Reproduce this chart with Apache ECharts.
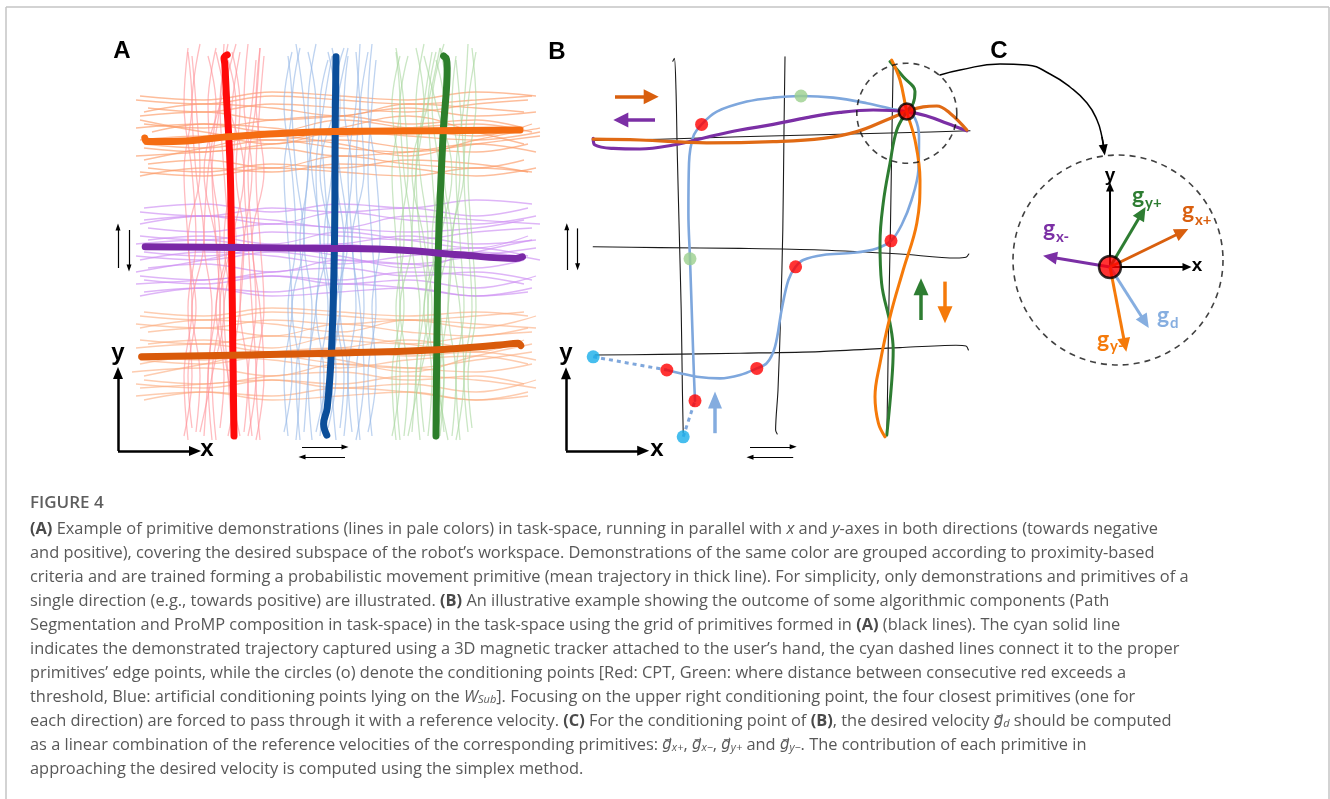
<!DOCTYPE html>
<html><head><meta charset="utf-8">
<script src="https://cdn.jsdelivr.net/npm/echarts/dist/echarts.min.js"></script>
<style>html,body{margin:0;padding:0;background:#fff}#c{width:1330px;height:799px}</style>
</head><body><div id="c"></div><script>
// ---------------- DATA ----------------
// Panel A: interior sample positions along each pale demonstration
const sampleMidA = [16, 33, 50, 67, 84];
// vertical pale demonstrations (x values at each sample)
const paleRed = [
  [12,11,13,12,11,13,12],[14,15,13,16,14,13,15],[16,17,18,16,17,19,17],[18,17,19,20,18,17,19],
  [20,21,19,22,21,20,22],[22,24,23,21,23,24,22],[24,23,25,26,24,25,23],[26,27,25,26,28,26,27],
  [28,27,29,28,27,29,30],[30,29,31,30,29,30,31],[15,18,21,19,16,20,24],[25,22,20,23,26,22,19],
  [11,13,12,14,13,11,12],[13,12,14,12,15,14,13],[19,18,20,19,18,20,21],[23,22,21,24,22,23,25],
  [27,29,28,27,26,28,29],[29,31,30,28,31,29,30]];
const paleRedStart = [0,2,1,0,3,1,0,2,1,0,2,1,1,3,0,2,1,0];
const paleRedEnd   = [97,99,96,98,99,95,97,99,98,96,99,97,98,96,99,97,95,98];
const paleBlue = [
  [37,36,38,37,36,38,37],[39,40,38,41,39,38,40],[41,42,43,41,42,44,42],[43,42,44,45,43,42,44],
  [45,46,44,47,46,45,47],[47,49,48,46,48,49,47],[49,48,50,51,49,50,48],[51,52,50,51,53,51,52],
  [53,52,54,53,52,54,55],[55,54,56,55,54,55,57],[58,57,59,58,57,58,59],[44,47,50,48,45,49,52],
  [36,38,37,39,38,36,38],[40,39,41,40,42,41,39],[46,45,47,45,44,46,48],[50,51,49,52,50,48,51],
  [54,56,55,53,56,55,54],[57,59,58,60,59,57,58]];
const paleBlueStart = [1,0,2,0,1,3,0,1,2,0,1,2,2,0,1,3,0,2];
const paleBlueEnd   = [96,98,97,99,95,97,98,96,99,97,95,98,97,99,96,98,97,99];
const paleGreen = [
  [64,63,65,64,63,65,64],[66,67,65,68,66,65,67],[68,69,70,68,69,71,69],[70,69,71,72,70,69,71],
  [72,73,71,74,73,72,74],[74,76,75,73,75,76,74],[76,75,77,78,76,77,75],[78,79,77,78,80,78,79],
  [80,79,81,80,79,81,82],[82,81,83,82,81,82,84],[67,70,73,71,68,72,75],[77,74,72,75,78,74,71],
  [63,65,64,66,65,63,65],[65,64,66,65,67,66,64],[71,70,72,70,69,71,73],[75,76,74,77,75,73,76],
  [79,81,80,78,81,80,79],[83,82,84,83,82,84,83]];
const paleGreenStart = [0,1,2,0,1,0,2,1,0,2,1,0,1,0,2,1,0,3];
const paleGreenEnd   = [97,96,98,99,97,95,98,96,99,97,98,96,96,98,97,99,95,98];
// horizontal pale demonstrations (y values at each sample)
const paleOrangeTop = [
  [67,66,68,67,66,68,67],[69,70,68,71,69,68,70],[71,72,73,71,72,74,72],[73,72,74,75,73,72,74],
  [75,76,74,77,76,75,77],[77,79,78,76,78,79,77],[79,78,80,81,79,80,78],[81,82,80,81,83,81,82],
  [83,82,84,83,82,84,85],[85,84,86,85,84,85,86],[70,73,76,74,71,75,78],[80,77,75,78,81,77,74],
  [66,68,67,69,68,66,68],[68,67,69,68,70,69,67],[74,73,75,73,72,74,76],[78,79,77,80,78,76,79],
  [82,84,83,81,84,83,82],[86,85,87,86,85,87,86]];
const paleOrangeTopStart = [0,2,-1,1,0,3,1,0,2,-1,1,0,0,2,1,-1,1,0];
const paleOrangeTopEnd   = [98,96,99,97,100,98,96,99,97,98,100,96,99,97,100,98,96,99];
const palePurple = [
  [37,38,36,37,38,36,37],[39,40,41,39,40,38,41],[41,40,42,43,41,42,40],[43,44,42,45,44,43,45],
  [45,47,46,44,46,47,45],[47,46,48,49,47,48,46],[49,50,48,49,51,49,50],[51,50,52,51,50,52,53],
  [53,52,54,53,52,53,55],[55,56,54,57,55,54,56],[57,56,58,57,58,56,58],[42,45,48,46,43,47,50],
  [36,38,37,39,38,36,38],[40,39,41,40,42,41,39],[46,45,47,45,44,46,48],[50,51,49,52,50,48,51],
  [54,56,55,53,56,55,54],[58,59,57,59,58,60,59]];
const palePurpleStart = [1,-1,0,2,0,1,-1,0,2,1,0,-1,0,1,-1,2,0,1];
const palePurpleEnd   = [97,99,98,96,100,97,99,98,96,99,97,98,98,96,99,97,100,98];
const paleOrangeLow = [
  [11,12,10,11,12,10,11],[13,14,15,13,14,12,15],[15,14,16,17,15,16,14],[17,18,16,19,18,17,19],
  [19,21,20,18,20,21,19],[21,20,22,23,21,22,20],[23,24,22,23,25,23,24],[25,24,26,25,24,26,27],
  [27,28,26,29,27,26,28],[29,28,30,29,30,28,31],[31,30,32,31,30,31,32],[16,19,22,20,17,21,24],
  [10,12,11,13,12,10,12],[14,13,15,14,16,15,13],[20,19,21,19,18,20,22],[24,25,23,26,24,22,25],
  [28,30,29,27,30,29,28],[32,31,33,32,31,32,31]];
const paleOrangeLowStart = [-1,0,1,-2,0,1,-1,0,2,-1,0,1,1,-1,0,2,0,1];
const paleOrangeLowEnd   = [97,99,96,98,97,99,96,98,97,99,96,98,97,99,98,96,99,97];
// Panel A mean primitives [x, y]
const meanRed    = [[23.5,1],[23.2,23],[22.9,48],[22.5,69],[21.6,86],[21.2,94],[21.0,95.5],[21.8,96.3]];
const meanBlue   = [[49,95.8],[48.8,77.5],[48.6,48],[47.9,23],[46.8,8],[45.9,4],[46.7,1.2]];
const meanGreen  = [[74,1],[74.2,23],[74.6,48],[75.8,77],[76.8,93],[76.6,95.2],[75.9,96]];
const meanOrangeTop = [[1.2,75.5],[1.8,74.6],[10,74.7],[23,75.9],[48,77.1],[73,77.3],[95,77.5]];
const meanPurple = [[1.3,48.3],[25,48.1],[48,47.9],[65,47.5],[80,46.3],[94,45.4],[95.6,45.8]];
const meanOrangeLow = [[0.4,20.8],[23,21.2],[48,21.7],[73,22.5],[90,23.75],[94.5,24.2],[95.2,23.6]];
const arrowsA_axisY = [[-5.5,-2.75],[-5.5,16.75]];
const arrowsA_axisX = [[-5.5,-2.75],[13.75,-2.75]];
const arrowsA_up    = [[-5.5,43],[-5.5,53.25]];
const arrowsA_down  = [[-2.75,52.5],[-2.75,43]];
const arrowsA_right = [[40.5,-1.75],[51.25,-1.75]];
const arrowsA_left  = [[51.25,-4.25],[40.5,-4.25]];

// Panel B: grid of primitives (black lines)
const gridB_v1 = [[33.2,102.2],[33.6,102.9],[34.0,95],[34.3,80],[34.8,60],[35.3,40],[35.6,20],[35.8,9.3]];
const gridB_v2 = [[61.25,103.3],[61.0,85],[60.7,60],[60.2,40],[59.5,20],[58.9,10],[59.3,9.0]];
const gridB_v3 = [[88.3,102],[88.0,85],[87.6,60],[87.2,40],[86.9,20],[86.7,8.5]];
const gridB_h1 = [[13.3,82.4],[30,82.7],[50,83.3],[70,83.8],[90,84.3],[107.5,84.8]];
const gridB_h2 = [[13.3,55.8],[30,55.6],[50,55.4],[70,55],[90,54],[104,53],[106.5,53.2],[107.2,54]];
const gridB_h3 = [[13.75,28.75],[30,28.9],[50,29.2],[70,29.6],[90,30.6],[104,31.2],[106.5,31],[107.1,30]];
// demonstrated trajectory
const trajectory = [[38.75,17.3],[38.5,23.3],[38.1,35],[37.5,52.8],[37.1,64.2],[37.25,76.7],[38.3,83.3],
  [40.4,86.4],[44.2,89.6],[51.7,92.1],[58.3,93.1],[65.25,93.5],[73.3,93.1],[81.7,91.7],[88.3,90.2],
  [91.7,89.6],[93.75,87.9],[94.75,83.3],[94.6,75],[92.9,67.5],[90.4,61.25],[87.75,57.3],[84.2,55.4],
  [78.3,54.3],[70.8,53.75],[65.8,52.5],[63.9,50.8],[62.1,47.5],[60.4,40],[58.75,30.8],[56.7,26.7],
  [54.2,25.4],[50,23.75],[45,22.9],[39.2,23.3],[35,24.2],[31.7,25]];
const dashedLink1 = [[13.3,28.3],[31.7,25]];
const dashedLink2 = [[35.8,8.3],[38.75,17.3]];
const primPurpleB = [[13.3,82.9],[13.75,81.25],[18.3,80.4],[25,80.25],[33.3,81.25],[41.7,83.2],[50,85],
  [58.3,86.4],[66.7,88.1],[75,89.4],[83.3,90],[91.7,89.6],[96.7,88.5],[101.7,86.7],[106.7,84.8]];
const primOrangeHB = [[13.3,82.7],[25,82.5],[41.7,81.8],[58.3,82.1],[70.8,82.9],[79.2,84.6],[87.5,87.9],
  [91.7,89.6],[95.8,90.8],[99.2,91],[102.5,89.2],[106.7,85]];
const primGreenB = [[87.5,102.1],[90.8,98.3],[93.75,94.6],[93.3,91.7],[91.7,89.6],[89.2,85],[87.5,76.7],
  [85.8,66.7],[85,56.7],[85.4,46.7],[87.5,36.7],[88.3,30],[87.9,21.7],[86.7,8.75]];
const primOrangeVB = [[87.9,102.5],[90,97.5],[91.7,89.6],[93.75,82.5],[95,72.5],[94.2,61.7],[90.8,50],
  [87.5,38.3],[85,26.7],[83.75,18.3],[84.6,11.7],[86.25,8.3]];
const redPoints   = [[38.75,17.3],[31.7,25],[54.2,25.4],[63.9,50.8],[87.75,57.3],[40.4,86.4]];
const greenPoints = [[37.5,52.8],[65.25,93.5]];
const bluePoints  = [[13.3,28.3],[35.8,8.3]];
const focusPoint  = [[91.7,89.6]];
const focusCircle = [[91.7,89.2]];
const arrowB_orangeRight = [[18.75,93.3],[27.8,93.3]];
const arrowB_purpleLeft  = [[28.75,87.5],[20.2,87.5]];
const arrowB_greenUp     = [[95.25,37.5],[95.25,45.8]];
const arrowB_orangeDown  = [[101.25,47.1],[101.25,38.8]];
const arrowB_blueUp      = [[43.75,9.2],[43.75,17.5]];
const arrowsB_axisY = [[6.5,4.8],[6.5,24.2]];
const arrowsB_axisX = [[6.5,4.8],[25.8,4.8]];
const arrowsB_up    = [[6.7,50],[6.7,60.8]];
const arrowsB_down  = [[9.4,60.4],[9.4,50.8]];
const arrowsB_right = [[52.5,5.8],[63.3,5.8]];
const arrowsB_left  = [[63.3,3.2],[52.5,3.2]];

// Panel C: velocities at the conditioning point
const originC = [45,50.75];
const circleC = [[47,52.5]];
const velYplus  = [53,64.25];
const velXplus  = [63,59.5];
const velXminus = [30,53.25];
const velD      = [53.75,37];
const velYminus = [48.75,31.25];
const axisCY = [45,70.75];
const axisCX = [64.25,50.75];
const linkCurve = [[2.5,98.75],[7.5,100],[17.5,101.5],[24.25,101.25],[30,99],[35,95.75],[39.25,91.75],
  [41.75,87.5],[43,83.25],[43.5,80]];

// ---------------- BUILD ----------------
const series = [];
function line(idx, data, color, width, extra) {
  series.push(Object.assign({type:'line', xAxisIndex:idx, yAxisIndex:idx, data:data, showSymbol:false,
    symbol:'none', smooth:0.4, silent:true, animation:false, clip:false,
    lineStyle:{color:color, width:width, cap:'round', join:'round'}}, extra||{}));
}
function vPale(idx, bundle, starts, ends, color, op) {
  bundle.forEach((xs, k) => {
    const ys = [starts[k]].concat(sampleMidA, [ends[k]]);
    line(idx, xs.map((x,i)=>[x, ys[i]]), color, 1.3, {lineStyle:{color:color,width:1.3,opacity:op}});
  });
}
function hPale(idx, bundle, starts, ends, color, op) {
  bundle.forEach((ys, k) => {
    const xs = [starts[k]].concat(sampleMidA, [ends[k]]);
    line(idx, ys.map((y,i)=>[xs[i], y]), color, 1.3, {lineStyle:{color:color,width:1.3,opacity:op}});
  });
}
function arrows(idx, list, color, width, symbol, size) {
  series.push({type:'line', xAxisIndex:idx, yAxisIndex:idx, data:[], silent:true, animation:false,
    markLine:{silent:true, animation:false, symbol:['none', symbol], symbolSize:size, precision:4,
      label:{show:false}, emphasis:{disabled:true},
      lineStyle:{color:color, width:width, type:'solid', opacity:1},
      data: list.map(p => [{coord:p[0], symbol:'none'},{coord:p[1], symbol:symbol}])}});
}
function scatter(idx, data, size, itemStyle, z) {
  series.push({type:'scatter', xAxisIndex:idx, yAxisIndex:idx, data:data, symbol:'circle', symbolSize:size,
    silent:true, animation:false, itemStyle:itemStyle, z:z||5, clip:false});
}

// Panel A
hPale(0, paleOrangeTop, paleOrangeTopStart, paleOrangeTopEnd, '#fc9a66', 0.65);
hPale(0, palePurple, palePurpleStart, palePurpleEnd, '#cc8ef3', 0.65);
hPale(0, paleOrangeLow, paleOrangeLowStart, paleOrangeLowEnd, '#fcaa7c', 0.6);
vPale(0, paleRed, paleRedStart, paleRedEnd, '#ff8f96', 0.6);
vPale(0, paleBlue, paleBlueStart, paleBlueEnd, '#92b6e6', 0.6);
vPale(0, paleGreen, paleGreenStart, paleGreenEnd, '#a6d69c', 0.6);
line(0, meanRed, '#ff0a0a', 7);
line(0, meanBlue, '#0b4e9a', 7);
line(0, meanGreen, '#2d7f2b', 7);
line(0, meanOrangeTop, '#f56c12', 7);
line(0, meanPurple, '#7a28a6', 7);
line(0, meanOrangeLow, '#d95a0a', 7);
arrows(0, [arrowsA_axisY, arrowsA_axisX], '#000', 2.5, 'triangle', [10,12]);
arrows(0, [arrowsA_up, arrowsA_down, arrowsA_right, arrowsA_left], '#000', 1.2, 'triangle', [5,7]);

// Panel B
[gridB_v1, gridB_v2, gridB_v3, gridB_h1, gridB_h2, gridB_h3].forEach(g => line(1, g, '#1a1a1a', 1.1, {smooth:0.3}));
line(1, dashedLink1, '#7fa7dc', 3, {smooth:false, lineStyle:{color:'#7fa7dc', width:3, type:[4,4]}});
line(1, dashedLink2, '#7fa7dc', 3, {smooth:false, lineStyle:{color:'#7fa7dc', width:3, type:[4,4]}});
line(1, trajectory, '#7ea7dd', 2.6, {smooth:0.35});
line(1, primPurpleB, '#7b2fa5', 3.2);
line(1, primOrangeHB, '#e06a14', 3.2);
line(1, primGreenB, '#2e7d32', 3);
line(1, primOrangeVB, '#f57a0a', 3);
scatter(1, focusCircle, 100, {color:'rgba(0,0,0,0)', borderColor:'#111', borderWidth:1.6, borderType:[6,5]}, 4);
scatter(1, redPoints, 13, {color:'#ff0000'}, 6);
scatter(1, greenPoints, 13, {color:'#9bd08d'}, 6);
scatter(1, bluePoints, 13, {color:'#18aeea'}, 6);
scatter(1, focusPoint, 16, {color:'#ff0000', borderColor:'#000', borderWidth:2.5}, 7);
arrows(1, [arrowB_orangeRight], '#d95f0e', 3.5, 'triangle', [15,15]);
arrows(1, [arrowB_purpleLeft], '#7b2fa5', 3.5, 'triangle', [15,15]);
arrows(1, [arrowB_greenUp], '#2e7d32', 3.5, 'triangle', [15,17]);
arrows(1, [arrowB_orangeDown], '#f57a0a', 3.5, 'triangle', [15,17]);
arrows(1, [arrowB_blueUp], '#84acdf', 3.5, 'triangle', [14,17]);
arrows(1, [arrowsB_axisY, arrowsB_axisX], '#000', 2.5, 'triangle', [10,12]);
arrows(1, [arrowsB_up, arrowsB_down, arrowsB_right, arrowsB_left], '#000', 1.2, 'triangle', [5,7]);

// Panel C
line(2, linkCurve, '#000', 1.5, {smooth:0.5});
arrows(2, [[linkCurve[linkCurve.length-2], linkCurve[linkCurve.length-1]]], '#000', 1.5, 'triangle', [9,11]);
scatter(2, circleC, 210, {color:'rgba(0,0,0,0)', borderColor:'#111', borderWidth:1.6, borderType:[6,5]}, 4);
arrows(2, [[originC, axisCY],[originC, axisCX]], '#000', 2, 'triangle', [8,9]);
arrows(2, [[originC, velYplus]], '#2e7d32', 3, 'triangle', [13,14]);
arrows(2, [[originC, velXplus]], '#d95f0e', 3, 'triangle', [13,14]);
arrows(2, [[originC, velXminus]], '#7b2fa5', 3, 'triangle', [13,14]);
arrows(2, [[originC, velD]], '#86aee0', 3, 'triangle', [13,14]);
arrows(2, [[originC, velYminus]], '#f57a0a', 3, 'triangle', [13,14]);
scatter(2, [originC], 22, {color:'#ff0000', borderColor:'#000', borderWidth:2.5}, 8);

// ---------------- TEXT ----------------
const FONT = '"Open Sans", "Noto Sans", sans-serif';
const g = [];
function txt(x, y, text, font, fill, align, va) {
  g.push({type:'text', silent:true, z:50, style:{x:x, y:y, text:text, font:font, fill:fill,
    align:align||'center', textAlign:align||'center', verticalAlign:va||'middle', textVerticalAlign:va||'middle'}});
}
const BIG = 'bold 24px "Liberation Sans", Arial, sans-serif';
txt(122, 51, 'A', BIG, '#000'); txt(557, 52, 'B', BIG, '#000'); txt(999, 51, 'C', BIG, '#000');
txt(118, 353, 'y', BIG, '#000'); txt(207, 449, 'x', BIG, '#000');
txt(566, 353, 'y', BIG, '#000'); txt(657, 449, 'x', BIG, '#000');
const MID = 'bold 19px "Liberation Sans", Arial, sans-serif';
txt(1110, 176, 'y', MID, '#000'); txt(1197, 266, 'x', MID, '#000');
const GF = 'bold 23px Lato, "Open Sans", sans-serif';
const SF = 'bold 15px Lato, "Open Sans", sans-serif';
function gl(x, yg, sub, ys, color) {
  txt(x, yg, 'g', GF, color, 'left'); txt(x+13, ys, sub, SF, color, 'left');
}
gl(1132, 196, 'y+', 203, '#2e7d32');
gl(1182, 211, 'x+', 220, '#d95f0e');
gl(1043, 229, 'x-', 237, '#7b2fa5');
gl(1157, 316, 'd', 323, '#86aee0');
gl(1097, 340, 'y-', 346, '#f57a0a');

// frame
g.push({type:'line', silent:true, shape:{x1:6,y1:7,x2:1329,y2:7}, style:{stroke:'#c4c4c4', lineWidth:1.5}});
g.push({type:'line', silent:true, shape:{x1:6,y1:7,x2:6,y2:799}, style:{stroke:'#c4c4c4', lineWidth:1.5}});
g.push({type:'line', silent:true, shape:{x1:1329,y1:7,x2:1329,y2:799}, style:{stroke:'#c4c4c4', lineWidth:1.5}});

// caption
const CAP = '#585858';
const captionLines = [
 '{b|(A)}{n| Example of primitive demonstrations (lines in pale colors) in task-space, running in parallel with }{i|x}{n| and }{i|y}{n|-axes in both directions (towards negative}',
 '{n|and positive), covering the desired subspace of the robot\u2019s workspace. Demonstrations of the same color are grouped according to proximity-based}',
 '{n|criteria and are trained forming a probabilistic movement primitive (mean trajectory in thick line). For simplicity, only demonstrations and primitives of a}',
 '{n|single direction (e.g., towards positive) are illustrated. }{b|(B)}{n| An illustrative example showing the outcome of some algorithmic components (Path}',
 '{n|Segmentation and ProMP composition in task-space) in the task-space using the grid of primitives formed in }{b|(A)}{n| (black lines). The cyan solid line}',
 '{n|indicates the demonstrated trajectory captured using a 3D magnetic tracker attached to the user\u2019s hand, the cyan dashed lines connect it to the proper}',
 '{n|primitives\u2019 edge points, while the circles (o) denote the conditioning points [Red: CPT, Green: where distance between consecutive red exceeds a}',
 '{n|threshold, Blue: artificial conditioning points lying on the }{i|W}{sub|Sub}{n|]. Focusing on the upper right conditioning point, the four closest primitives (one for}',
 '{n|each direction) are forced to pass through it with a reference velocity. }{b|(C)}{n| For the conditioning point of }{b|(B)}{n|, the desired velocity }{v|g\u20D7}{sub|d}{n| should be computed}',
 '{n|as a linear combination of the reference velocities of the corresponding primitives: }{v|g\u20D7}{sub|x+}{n|, }{v|g\u20D7}{sub|x\u2212}{n|, }{v|g\u20D7}{sub|y+}{n| and }{v|g\u20D7}{sub|y\u2212}{n|. The contribution of each primitive in}',
 '{n|approaching the desired velocity is computed using the simplex method.}'
];
const capSize = 16.4;
const rich = {
  n:{fontFamily:FONT, fontSize:capSize, fill:CAP, color:CAP, lineHeight:20, verticalAlign:'bottom'},
  b:{fontFamily:FONT, fontSize:capSize, fontWeight:'bold', fill:'#4a4a4a', color:'#4a4a4a', lineHeight:20, verticalAlign:'bottom'},
  i:{fontFamily:FONT, fontSize:capSize, fontStyle:'italic', fill:CAP, color:CAP, lineHeight:20, verticalAlign:'bottom'},
  v:{fontFamily:'"DejaVu Sans"', fontSize:15, fontStyle:'italic', fill:CAP, color:CAP, lineHeight:20, verticalAlign:'bottom'},
  sub:{fontFamily:FONT, fontSize:11, fontStyle:'italic', fill:CAP, color:CAP, lineHeight:11, verticalAlign:'bottom'}
};
g.push({type:'text', silent:true, style:{x:30, y:503, text:'FIGURE 4', font:'600 17px ' + FONT, fill:'#5e5e5e',
  align:'left', textAlign:'left', verticalAlign:'middle', textVerticalAlign:'middle'}});
captionLines.forEach((s, k) => {
  g.push({type:'text', silent:true, style:{x:30, y:527 + 24*k, text:s, rich:rich, fill:CAP,
    font: capSize + 'px ' + FONT, align:'left', textAlign:'left', verticalAlign:'middle', textVerticalAlign:'middle'}});
});

// ---------------- CHART ----------------
const hidden = (min, max) => ({type:'value', min:min, max:max, show:false, splitLine:{show:false}});
const option = {
  backgroundColor:'#ffffff',
  animation:false,
  grid:[
    {left:100, top:40, width:440, height:440},
    {left:540, top:30, width:440, height:440},
    {left:930, top:30, width:400, height:440}
  ],
  xAxis:[Object.assign(hidden(-10,100),{gridIndex:0}), Object.assign(hidden(0,110),{gridIndex:1}), Object.assign(hidden(0,100),{gridIndex:2})],
  yAxis:[Object.assign(hidden(-10,100),{gridIndex:0}), Object.assign(hidden(0,110),{gridIndex:1}), Object.assign(hidden(0,110),{gridIndex:2})],
  series: series,
  graphic: g
};
const chart = echarts.init(document.getElementById('c'), null, {renderer:'canvas'});
chart.setOption(option);
</script></body></html>
